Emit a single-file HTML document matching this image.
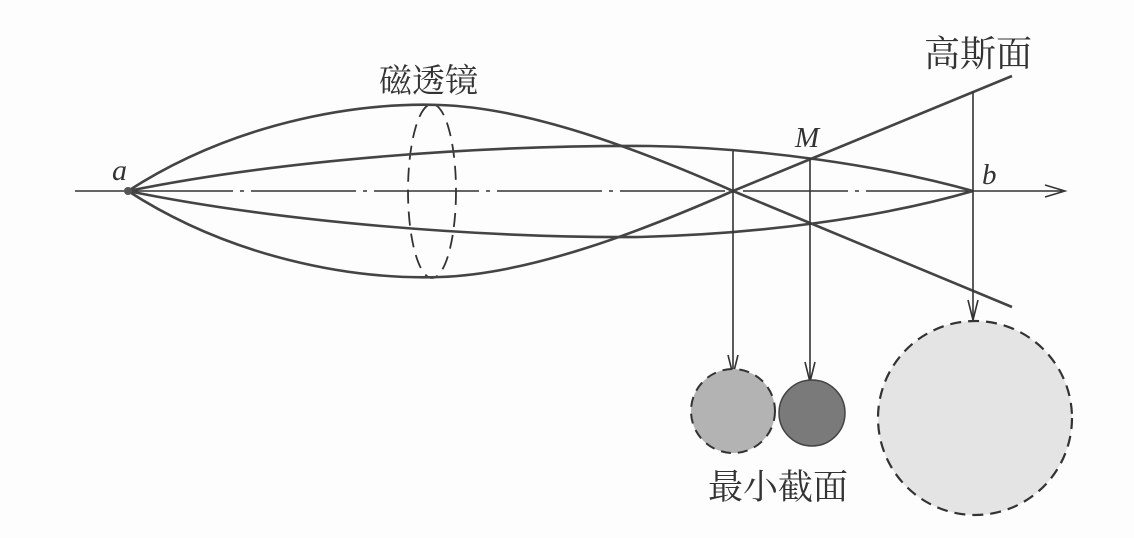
<!DOCTYPE html>
<html><head><meta charset="utf-8"><style>
html,body{margin:0;padding:0;background:#fff;}
svg{display:block}
text{font-family:"Liberation Serif","Noto Serif CJK SC",serif;fill:#333}
</style></head><body>
<svg width="1134" height="538" viewBox="0 0 1134 538" xmlns="http://www.w3.org/2000/svg">
<rect width="1134" height="538" fill="#fdfdfd"/>
<line x1="75" y1="191" x2="128" y2="191" stroke="#333" stroke-width="1.5"/>
<line x1="128" y1="191" x2="972" y2="191" stroke="#333" stroke-width="1.5" stroke-dasharray="105,7,4,7"/>
<line x1="972" y1="191" x2="1062" y2="191" stroke="#333" stroke-width="1.5"/>
<path d="M1045,185 L1065,191 L1045,197" fill="none" stroke="#333" stroke-width="1.5"/>
<ellipse cx="432" cy="191" rx="24" ry="87" fill="none" stroke="#333" stroke-width="1.8" stroke-dasharray="14,8"/>
<g fill="none" stroke="#444" stroke-width="2.6">
<path d="M128,191 C230,125 350,102 440,105 C530,108 640,150 733,191 L1012,307"/>
<path d="M128,191 C230,257 350,280 440,277 C530,274 640,232 733,191 L1012,76"/>
<path d="M128,191 C280,160 480,145 650,146 C760,148 880,165 973,191"/>
<path d="M128,191 C280,222 480,238 640,237 C760,234 880,218 973,191"/>
</g>
<circle cx="128" cy="191" r="4" fill="#555"/>
<g stroke="#333" stroke-width="1.6" fill="none">
<line x1="733" y1="151" x2="733" y2="375"/>
<path d="M728,355 L733,375 L738,355"/>
<line x1="810" y1="158" x2="810" y2="382"/>
<path d="M805,362 L810,382 L815,362"/>
<line x1="973" y1="92" x2="973" y2="320"/>
<path d="M968,300 L973,320 L978,300"/>
</g>
<circle cx="733" cy="411" r="42" fill="#b3b3b3" stroke="#333" stroke-width="2" stroke-dasharray="10,7"/>
<circle cx="812" cy="413" r="33" fill="#7a7a7a" stroke="#444" stroke-width="1.5"/>
<circle cx="975" cy="418" r="97" fill="#e4e4e4" stroke="#333" stroke-width="2.2" stroke-dasharray="11,7"/>
<text x="379" y="92" font-size="33">磁透镜</text>
<text x="924" y="66" font-size="36">高斯面</text>
<text x="708" y="499" font-size="35">最小截面</text>
<text x="112" y="180" font-size="30" font-style="italic">a</text>
<text x="795" y="147" font-size="29" font-style="italic">M</text>
<text x="982" y="184" font-size="29" font-style="italic">b</text>
</svg>
</body></html>
